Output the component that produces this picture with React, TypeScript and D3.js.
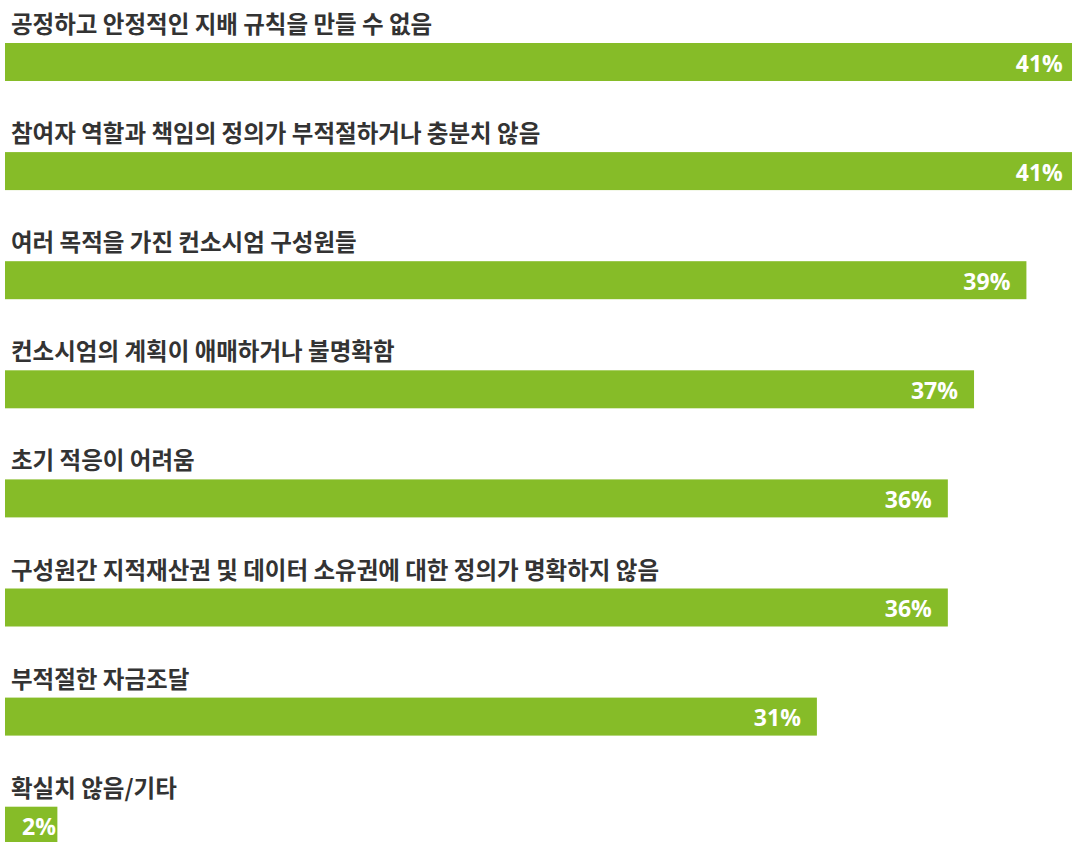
import React from "react";
import * as d3 from "d3";

const categories: string[] = [
  "공정하고 안정적인 지배 규칙을 만들 수 없음",
  "참여자 역할과 책임의 정의가 부적절하거나 충분치 않음",
  "여러 목적을 가진 컨소시엄 구성원들",
  "컨소시엄의 계획이 애매하거나 불명확함",
  "초기 적응이 어려움",
  "구성원간 지적재산권 및 데이터 소유권에 대한 정의가 명확하지 않음",
  "부적절한 자금조달",
  "확실치 않음/기타",
];
const values: number[] = [41, 41, 39, 37, 36, 36, 31, 2];

const W = 1072;
const H = 842;

export default function App() {
  const x = d3.scaleLinear().domain([0, 41]).range([5, 5 + 26.19 * 41]);
  const y = d3
    .scaleBand<number>()
    .domain(d3.range(categories.length))
    .range([43, 43 + 109.1 * categories.length])
    .paddingInner(0)
    .paddingOuter(0);
  const barH = 38;
  return (
    <svg
      width={W}
      height={H}
      style={{ position: "absolute", left: 0, top: 0, display: "block" }}
    >
      <rect x={0} y={0} width={W} height={H} fill="#ffffff" />
      {categories.map((c, i) => {
        const top = y(i)!;
        const x1 = x(values[i]);
        const short = x1 - x(0) < 80;
        return (
          <g key={i}>
            <text
              x={11}
              y={top - 10}
              fontFamily="'Noto Sans CJK KR', 'Noto Sans', sans-serif"
              fontWeight={700}
              fontSize={23.5}
              fill="#333333"
            >
              {c}
            </text>
            <rect x={x(0)} y={top} width={x1 - x(0)} height={barH} fill="#86bc28" />
            <text
              x={short ? 22 : x1 - 16}
              y={top + 28.5}
              textAnchor={short ? "start" : "end"}
              fontFamily="'Open Sans', sans-serif"
              fontWeight={700}
              fontSize={23}
              fill="#ffffff"
            >
              {values[i]}%
            </text>
          </g>
        );
      })}
    </svg>
  );
}
